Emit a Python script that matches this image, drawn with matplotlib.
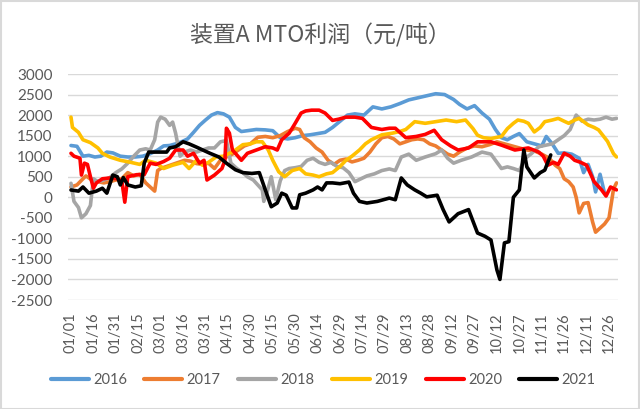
import matplotlib
matplotlib.use("Agg")
import matplotlib.pyplot as plt
from matplotlib.patches import Rectangle

# ---------------- data (day of year, value) ----------------
tick_labels = ["01/01", "01/16", "01/31", "02/15", "03/01", "03/16", "03/31", "04/15",
               "04/30", "05/15", "05/30", "06/14", "06/29", "07/14", "07/29", "08/13",
               "08/28", "09/12", "09/27", "10/12", "10/27", "11/11", "11/26", "12/11", "12/26"]

d2016 = [0,4,8,12,16,20,24,28,33,38,43,48,53,58,62,66,70,74,78,82,86,90,94,98,102,106,110,114,118,
         124,130,135,140,145,150,155,160,165,170,175,180,185,190,196,202,208,214,220,226,232,238,244,
         250,256,260,265,270,275,280,284,288,292,296,300,305,310,315,318,322,326,330,335,340,343,346,
         349,351,354,357]
v2016 = [1260,1240,1000,1020,980,1000,1100,1080,1000,980,980,1000,1060,1150,1250,1260,1300,1350,1420,
         1580,1750,1880,2000,2060,2030,1950,1700,1600,1620,1650,1640,1620,1450,1420,1450,1500,1520,1550,
         1580,1700,1850,2000,2030,2000,2200,2150,2200,2280,2370,2420,2470,2520,2500,2380,2260,2150,2230,
         2050,1900,1650,1450,1400,1480,1550,1350,1300,1250,1480,1300,1070,1080,1050,950,600,800,500,130,
         560,100]

d2017 = [0,4,8,10,14,18,22,26,30,34,38,42,46,50,53,56,58,60,64,68,72,76,80,84,88,92,96,100,104,108,
         112,116,120,125,130,135,140,145,150,153,156,160,164,168,172,176,180,184,188,192,196,200,204,208,
         212,216,220,224,228,232,236,240,244,248,252,256,260,265,270,275,280,285,290,295,300,305,310,315,
         320,324,327,330,333,336,338,340,343,346,349,351,354,357,360,363,365]
v2017 = [250,300,450,520,420,380,350,380,420,450,600,520,560,350,250,150,650,700,750,800,850,900,880,
         820,800,830,700,900,980,1050,1150,1250,1300,1460,1480,1450,1500,1600,1680,1650,1450,1350,1200,
         1100,900,800,900,930,860,900,950,1100,1300,1450,1480,1420,1300,1350,1400,1420,1400,1300,1250,
         1150,1050,1000,1100,1200,1250,1230,1280,1350,1300,1250,1200,1150,1130,1050,950,780,700,450,380,
         250,0,-380,-150,-130,-600,-850,-750,-650,-500,200,350]

d2018 = [0,2,5,7,10,13,15,18,22,26,30,34,38,42,46,50,53,56,58,60,63,66,68,70,73,76,80,84,88,92,96,
         100,104,107,111,115,118,122,125,128,129,131,134,137,140,143,146,150,154,158,162,166,170,174,178,
         182,186,190,194,198,203,208,213,217,221,226,231,237,244,248,252,256,261,268,275,281,285,288,292,
         296,300,304,308,313,318,322,326,330,334,338,342,346,350,354,358,362,365]
v2018 = [340,-100,-250,-500,-400,-200,450,380,420,480,600,690,830,1000,1150,1180,1150,1400,1830,1950,
         1900,1750,1830,1560,1000,1100,1150,1100,1150,1200,1200,1350,1380,830,700,600,500,420,300,180,
         -100,100,500,-60,400,650,700,720,750,900,950,850,800,850,750,720,600,380,450,520,570,650,690,
         650,980,1050,900,980,1060,1150,950,830,900,980,1100,1050,850,700,740,700,650,950,1060,1230,
         1270,1300,1400,1500,1650,2000,1850,1900,1880,1900,1950,1900,1920]

d2019 = [0,1,5,8,13,18,21,26,33,40,46,50,57,62,68,75,79,84,88,92,97,102,106,110,115,120,124,128,132,
         135,139,143,148,153,157,162,166,171,175,180,184,188,193,197,201,208,215,220,224,230,237,244,
         251,258,264,269,272,276,281,288,292,296,299,303,306,310,314,317,322,326,330,333,337,340,346,
         350,353,356,359,363,365]
v2019 = [1950,1700,1580,1400,1330,1200,1070,980,900,850,800,900,830,700,780,850,700,900,780,850,980,
         1000,1070,1150,1280,1300,1350,1350,1150,900,620,500,650,700,570,540,500,570,600,750,900,1000,
         1150,1300,1400,1520,1560,1600,1650,1840,1800,1840,1880,1840,1880,1670,1510,1450,1430,1480,1670,
         1800,1880,1850,1800,1590,1700,1840,1880,1920,1850,1800,1880,1920,1760,1700,1640,1500,1360,1060,
         980]

d2020 = [0,2,6,7,9,11,13,15,17,21,26,31,34,36,38,44,49,53,57,62,66,70,75,78,82,86,89,91,96,101,103,
         104,106,108,110,114,118,124,130,135,138,141,146,150,154,157,161,166,170,175,179,184,190,195,201,
         208,213,217,224,231,237,243,248,254,259,266,272,281,288,297,306,313,316,319,323,326,330,334,337,
         341,345,350,355,358,361,365]
v2020 = [1070,1000,950,540,830,800,500,220,350,450,470,450,400,-120,500,550,550,830,800,870,950,1150,
         1150,1000,1070,830,900,420,540,700,900,1680,1560,1150,1070,900,1070,1150,1230,1200,1150,1400,
         1560,1800,2050,2100,2120,2120,2050,1870,1900,1950,1950,1920,1700,1650,1680,1680,1450,1480,1530,
         1630,1400,1250,1150,1200,1350,1350,1270,1150,1200,1100,1000,780,850,800,1070,1000,900,850,780,
         380,180,30,250,180]

d2021 = [0,5,8,12,17,21,24,28,31,33,35,38,43,47,49,52,58,64,66,70,75,79,84,93,99,104,110,115,121,126,
         130,134,138,141,144,148,151,153,157,162,165,168,171,175,180,186,189,193,198,205,213,217,221,225,
         230,234,238,245,249,253,259,266,272,277,281,285,287,290,293,296,300,303,305,310,314,317,321]
v2021 = [177,150,250,100,150,220,100,540,500,300,480,300,250,280,830,1100,1100,1100,1200,1230,1350,1300,
         1220,1070,980,830,670,600,580,600,180,-230,-140,100,50,-260,-260,60,100,180,250,180,350,350,330,
         370,100,-100,-140,-100,-20,-60,470,300,180,100,10,50,-300,-600,-400,-300,-870,-950,-1040,-1770,
         -2000,-1110,-1080,0,180,1150,740,470,600,660,1030]

series = [("2016", d2016, v2016, "#5B9BD5"),
          ("2017", d2017, v2017, "#ED7D31"),
          ("2018", d2018, v2018, "#A5A5A5"),
          ("2019", d2019, v2019, "#FFC000"),
          ("2020", d2020, v2020, "#FF0000"),
          ("2021", d2021, v2021, "#000000")]

# ---------------- figure ----------------
plt.rcParams['font.family'] = ['Lato', 'DejaVu Sans']
plt.rcParams['axes.unicode_minus'] = False
fig = plt.figure(figsize=(6.4, 4.09), dpi=100)
ax = fig.add_axes([68/640, 1-300/409, 550/640, 226/409])

for name, d, v, c in series:
    ax.plot(d, v, color=c, lw=2.6, label=name, solid_joinstyle='round', solid_capstyle='round')

ax.set_ylim(-2500, 3000)
ax.set_yticks(range(-2500, 3001, 500))
ax.set_xlim(-2, 366)
ax.set_xticks([15*i for i in range(len(tick_labels))])
ax.set_xticklabels(tick_labels, rotation=90)
ax.grid(axis='y', color='#D9D9D9', lw=1)
ax.set_axisbelow(True)
for s in ax.spines.values():
    s.set_visible(False)
ax.tick_params(length=0, labelcolor='#595959')
ax.tick_params(axis='y', pad=11, labelsize=11)
ax.tick_params(axis='x', pad=9, labelsize=10.5)

fig.text(0.5, 1-35/409, "装置A MTO利润（元/吨）", ha='center', va='center',
         fontsize=16.5, color='#595959', family=['Noto Sans CJK SC', 'DejaVu Sans'])

leg = fig.legend(loc='center', bbox_to_anchor=(0.505, 1-380/409), ncol=6, frameon=False,
                 handlelength=2.6, handletextpad=0.3, columnspacing=1.2, fontsize=10.5,
                 labelcolor='#595959')
for line in leg.get_lines():
    line.set_linewidth(3)

fig.add_artist(Rectangle((0.001, 0.001), 0.997, 0.997, transform=fig.transFigure,
                         fill=False, edgecolor='#D9D9D9', lw=1.5))

fig.savefig("out.png", dpi=100)
